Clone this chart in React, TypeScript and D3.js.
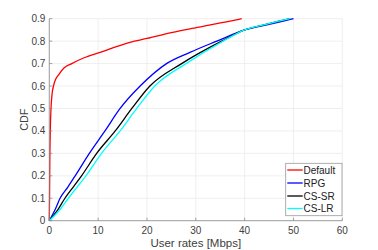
import React from 'react'
import * as d3 from 'd3'

type Pt = [number, number]

// [rate in Mbps, CDF]
const defaultCdf: Pt[] = [
  [0, 0], [0.05, 0.1], [0.1, 0.25], [0.2, 0.4], [0.35, 0.5], [0.6, 0.57],
  [0.85, 0.6], [1.3, 0.63], [1.9, 0.65], [3, 0.68], [4.6, 0.7], [7, 0.725],
  [10.4, 0.75], [13, 0.77], [16.5, 0.795], [20, 0.812], [25, 0.838],
  [28.8, 0.855], [33, 0.872], [36, 0.885], [39.4, 0.9],
]
const rpgCdf: Pt[] = [
  [0, 0], [1.2, 0.05], [2.2, 0.1], [3.8, 0.15], [5.3, 0.2], [8.2, 0.3],
  [11.4, 0.4], [14.5, 0.5], [18.6, 0.6], [24, 0.7], [28.8, 0.75],
  [34.3, 0.8], [40, 0.85], [45, 0.875], [50, 0.9],
]
const csSrCdf: Pt[] = [
  [0, 0], [1.8, 0.05], [3.2, 0.1], [4.9, 0.15], [6.6, 0.2], [9.7, 0.3],
  [13.5, 0.4], [16.9, 0.5], [20.6, 0.6], [27.1, 0.7],
  [35.3, 0.8], [40, 0.85], [45, 0.878], [49.3, 0.9],
]
const csLrCdf: Pt[] = [
  [0, 0], [2.2, 0.05], [3.9, 0.1], [5.7, 0.15], [7.5, 0.2], [10.7, 0.3],
  [14.5, 0.4], [17.9, 0.5], [21.6, 0.6], [28, 0.7],
  [35.6, 0.8], [40, 0.85], [45, 0.878], [49.3, 0.9],
]

const seriesNames = ['Default', 'RPG', 'CS-SR', 'CS-LR']
const seriesColors = ['#ff0000', '#0000ff', '#000000', '#00ffff']
const seriesData = [defaultCdf, rpgCdf, csSrCdf, csLrCdf]

const xTicks = [0, 10, 20, 30, 40, 50, 60]
const yTicks = [0, 0.1, 0.2, 0.3, 0.4, 0.5, 0.6, 0.7, 0.8, 0.9]

const App: React.FunctionComponent = () => {
  const width = 378
  const height = 250
  const margin = { top: 18.7, left: 49.3, bottom: 29.3, right: 35.7 }
  const font = 'Liberation Sans, Arial, sans-serif'

  const xScale = d3
    .scaleLinear()
    .domain([0, 60])
    .range([margin.left, width - margin.right])
  const yScale = d3
    .scaleLinear()
    .domain([0, 0.9])
    .range([height - margin.bottom, margin.top])

  const line = d3
    .line<Pt>()
    .x(d => xScale(d[0]))
    .y(d => yScale(d[1]))
    .curve(d3.curveMonotoneX)

  const x0 = xScale(0)
  const x1 = xScale(60)
  const y0 = yScale(0)
  const y1 = yScale(0.9)

  const lg = { x: 285.7, y: 163.3, w: 56.3, h: 52.4 }
  const rowY = [170, 183, 196, 208.5]

  return (
    <div style={{ position: 'absolute', left: 0, top: 0 }}>
      <svg width={width} height={height} style={{ display: 'block' }}>
        <rect width={width} height={height} fill="#fff" />
        {/* grid */}
        {xTicks.map(t => (
          <line key={'gx' + t} x1={xScale(t)} x2={xScale(t)} y1={y0} y2={y1} stroke="#ebebeb" strokeWidth={0.8} />
        ))}
        {yTicks.map(t => (
          <line key={'gy' + t} x1={x0} x2={x1} y1={yScale(t)} y2={yScale(t)} stroke="#ebebeb" strokeWidth={0.8} />
        ))}

        {seriesData.map((d, i) => (
          <path key={seriesNames[i]} d={line(d) || ''} fill="none" stroke={seriesColors[i]} strokeWidth={1.3} />
        ))}

        {/* axes */}
        <line x1={x0} x2={x1} y1={y0} y2={y0} stroke="#8a8a8a" strokeWidth={0.8} />
        <line x1={x0} x2={x0} y1={y0} y2={y1} stroke="#8a8a8a" strokeWidth={0.8} />
        {xTicks.map(t => (
          <g key={'xt' + t}>
            <line x1={xScale(t)} x2={xScale(t)} y1={y0} y2={y0 - 3} stroke="#8a8a8a" strokeWidth={0.8} />
            <text x={xScale(t)} y={y0 + 13} textAnchor="middle" fontFamily={font} fontSize={10} fill="#404040">
              {t}
            </text>
          </g>
        ))}
        {yTicks.map(t => (
          <g key={'yt' + t}>
            <line x1={x0} x2={x0 + 3} y1={yScale(t)} y2={yScale(t)} stroke="#8a8a8a" strokeWidth={0.8} />
            <text x={x0 - 4} y={yScale(t) + 3.5} textAnchor="end" fontFamily={font} fontSize={10} fill="#404040">
              {t === 0 ? '0' : d3.format('.1f')(t)}
            </text>
          </g>
        ))}

        <text x={(x0 + x1) / 2} y={247.3} textAnchor="middle" fontFamily={font} fontSize={11.5} fill="#404040">
          User rates [Mbps]
        </text>
        <text
          transform={`translate(27.8, ${(y0 + y1) / 2}) rotate(-90)`}
          textAnchor="middle"
          fontFamily={font}
          fontSize={10.8}
          fill="#404040"
        >
          CDF
        </text>

        {/* legend */}
        <rect x={lg.x} y={lg.y} width={lg.w} height={lg.h} fill="#fff" stroke="#9a9a9a" strokeWidth={0.8} />
        {seriesNames.map((n, i) => (
          <g key={'lg' + n}>
            <line x1={287.3} x2={302.7} y1={rowY[i]} y2={rowY[i]} stroke={seriesColors[i]} strokeWidth={1.3} />
            <text x={303.5} y={rowY[i] + 3.6} fontFamily={font} fontSize={10} fill="#202020">
              {n}
            </text>
          </g>
        ))}
      </svg>
    </div>
  )
}

export default App
